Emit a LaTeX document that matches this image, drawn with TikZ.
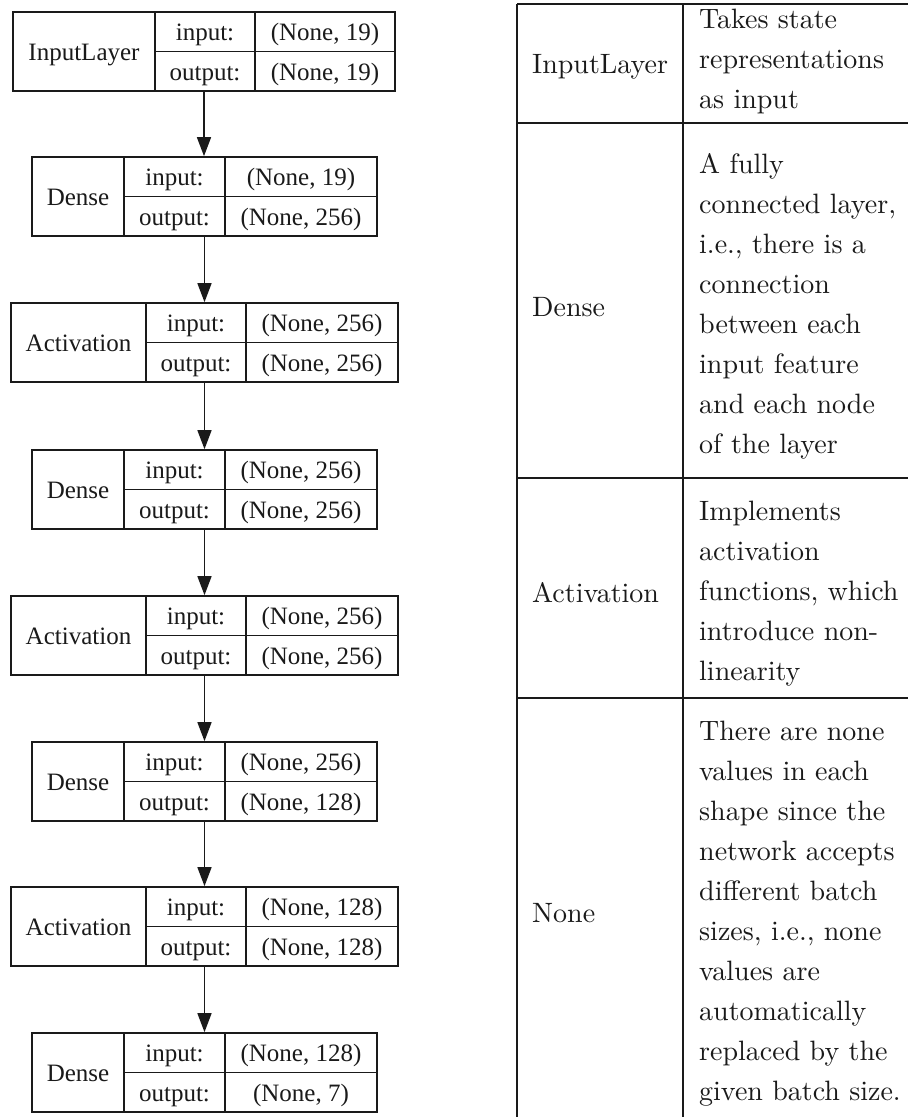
\documentclass[tikz,border=0pt]{standalone}
\usepackage{fontspec}
\newfontfamily\tms{Liberation Serif}
\newfontfamily\lmten{lmroman10-regular.otf}
\usetikzlibrary{arrows.meta}
\definecolor{ink}{HTML}{1A1A1A}

\tikzset{
  layerbox/.style={draw=ink, line width=1.7pt, inner sep=0pt, minimum height=79pt},
  layerline/.style={draw=ink, line width=1.7pt},
  cell/.style={font=\tms\fontsize{25}{30}\selectfont, text=ink, inner sep=0pt, anchor=base},
  flow/.style={draw=ink, line width=1.6pt, -{Triangle[length=19pt,width=14pt]}},
  rule/.style={draw=ink, line width=2pt},
  term/.style={font=\lmten\fontsize{28}{40}\selectfont, text=ink, inner sep=0pt, anchor=base west},
  desc/.style={font=\lmten\fontsize{28}{40}\selectfont, text=ink, inner sep=0pt, anchor=base west},
}

% one layer record: name, top, left, first divider, second divider, right,
% layer kind, input shape, output shape
\newcommand\nnlayer[9]{%
  \node[layerbox, minimum width={(#6-#3)*1pt}] (#1) at ({(#3+#6)/2},{#2+39.5}) {};
  \draw[layerline] (#4,#2) -- (#4,#2+79) (#5,#2) -- (#5,#2+79) (#4,#2+39.5) -- (#6,#2+39.5);
  \node[cell] (#1-kind) at ({(#3+#4)/2},{#2+39.5+8.8}) {#7};
  \node[cell] (#1-inl)  at ({(#4+#5)/2},{#2+19.75+8.8}) {input:};
  \node[cell] (#1-outl) at ({(#4+#5)/2},{#2+59.25+8.8}) {output:};
  \node[cell] (#1-in)   at ({(#5+#6)/2},{#2+19.75+8.8}) {#8};
  \node[cell] (#1-out)  at ({(#5+#6)/2},{#2+59.25+8.8}) {#9};
}

\begin{document}
\begin{tikzpicture}[x=1pt, y=-1pt]
  \useasboundingbox (0,0) rectangle (908,1117);
  \fill[white] (0,0) rectangle (908,1117);

  % model graph
  \nnlayer{l1}{12}{13}{155}{255}{395}{InputLayer}{(None, 19)}{(None, 19)}
  \nnlayer{l2}{157}{32}{124}{225}{377}{Dense}{(None, 19)}{(None, 256)}
  \nnlayer{l3}{303}{11}{146}{246}{398}{Activation}{(None, 256)}{(None, 256)}
  \nnlayer{l4}{450}{32}{124}{225}{377}{Dense}{(None, 256)}{(None, 256)}
  \nnlayer{l5}{596}{11}{146}{246}{398}{Activation}{(None, 256)}{(None, 256)}
  \nnlayer{l6}{742}{32}{124}{225}{377}{Dense}{(None, 256)}{(None, 128)}
  \nnlayer{l7}{887}{11}{146}{246}{398}{Activation}{(None, 128)}{(None, 128)}
  \nnlayer{l8}{1033}{32}{124}{225}{377}{Dense}{(None, 128)}{(None, 7)}

  \foreach \a/\b in {l1/l2, l2/l3, l3/l4, l4/l5, l5/l6, l6/l7, l7/l8}
    \draw[flow] (\a.south) -- (\a.south |- \b.north);

  % glossary table
  \draw[rule] (517,4) -- (908,4);
  \draw[rule] (517,123) -- (908,123);
  \draw[rule] (517,478) -- (908,478);
  \draw[rule] (517,698) -- (908,698);
  \draw[rule] (517,4) -- (517,1117);
  \draw[rule] (683,4) -- (683,1117);

  \node[term] (t-input) at (532,73) {InputLayer};
  \node[term] (t-dense) at (532,316) {Dense};
  \node[term] (t-act)   at (532,602) {Activation};
  \node[term] (t-none)  at (532,922) {None};

  \node[desc] (d-input) at (699,28) {\parbox[t]{260pt}{Takes state\\representations\\as input}};
  \node[desc] (d-dense) at (699,173) {\parbox[t]{260pt}{A fully\\connected layer,\\i.e., there is a\\connection\\between each\\input feature\\and each node\\of the layer}};
  \node[desc] (d-act)   at (699,520) {\parbox[t]{260pt}{Implements\\activation\\functions, which\\introduce non-\\linearity}};
  \node[desc] (d-none)  at (699,740) {\parbox[t]{260pt}{There are none\\values in each\\shape since the\\network accepts\\different batch\\sizes, i.e., none\\values are\\automatically\\replaced by the\\given batch size.}};
\end{tikzpicture}
\end{document}
